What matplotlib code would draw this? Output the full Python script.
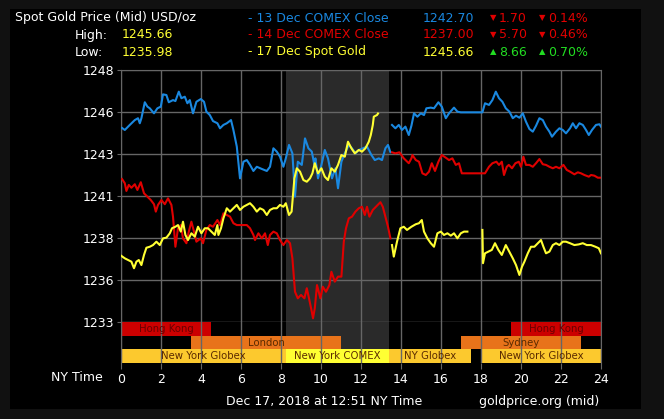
import matplotlib.pyplot as plt
import numpy as np
from matplotlib.patches import Rectangle

nan = np.nan

# 13 Dec COMEX (blue) - hour of NY day, price
hours_13 = [0.05, 0.19, 0.44, 0.69, 0.85, 0.94, 1.02, 1.19, 1.32, 1.44, 1.65, 1.82, 1.99, 2.10, 2.27, 2.39,
            2.60, 2.72, 2.89, 3.02, 3.19, 3.32, 3.44, 3.60, 3.77, 3.99, 4.15, 4.27, 4.44, 4.60, 4.82, 4.95,
            5.12, 5.29, 5.50, 5.62, 5.79, 5.95, 6.12, 6.29, 6.45, 6.62, 6.79, 7.04, 7.29, 7.45, 7.62, 7.79,
            7.95, 8.12, 8.24, 8.40, 8.57, 8.70, 8.84, 9.04, 9.20, 9.37, 9.54, 9.67, 9.72, 9.85, 10.02, 10.19,
            10.35, 10.55, 10.72, 10.85, 11.02, 11.19, 11.39, 11.55, 11.72, 11.89, 12.09, 12.30, 12.52, 12.69,
            12.89, 13.05, 13.22, 13.35, 13.47, 13.50, 13.55, 13.72, 13.89, 14.05, 14.22, 14.39, 14.52, 14.65,
            14.82, 14.99, 15.15, 15.27, 15.49, 15.65, 15.87, 16.04, 16.24, 16.40, 16.65, 16.82, 16.99, 18.07,
            18.20, 18.40, 18.57, 18.74, 18.90, 19.07, 19.24, 19.42, 19.59, 19.75, 19.92, 20.09, 20.25, 20.42,
            20.59, 20.75, 20.92, 21.09, 21.25, 21.42, 21.55, 21.75, 21.92, 22.09, 22.25, 22.45, 22.59, 22.75,
            22.92, 23.09, 23.25, 23.39, 23.55, 23.75, 23.92, 24.0]
price_13 = [1244.80, 1244.68, 1244.98, 1245.27, 1245.38, 1245.08, 1245.38, 1246.33, 1246.07, 1245.97, 1245.67,
            1245.97, 1246.07, 1246.80, 1246.76, 1246.33, 1246.46, 1246.40, 1246.96, 1246.57, 1246.66, 1246.27,
            1246.46, 1245.67, 1246.36, 1246.52, 1246.36, 1245.77, 1245.57, 1245.21, 1245.08, 1244.78, 1244.98,
            1245.08, 1245.27, 1244.68, 1243.69, 1241.80, 1242.79, 1242.89, 1242.60, 1242.24, 1242.49, 1242.36,
            1242.24, 1242.49, 1243.59, 1243.39, 1243.09, 1242.49, 1242.99, 1243.79, 1243.29, 1240.71, 1242.79,
            1242.60, 1244.18, 1243.59, 1243.39, 1242.60, 1242.99, 1241.80, 1242.60, 1243.49, 1242.99, 1241.80,
            1242.40, 1241.21, 1242.79, 1243.29, 1243.79, 1243.59, 1243.29, 1243.49, 1243.59, 1243.69, 1243.19,
            1242.89, 1242.99, 1242.89, 1243.59, 1243.79, 1243.35, nan, 1244.98, 1244.78, 1244.98, 1244.68,
            1244.88, 1244.38, 1244.93, 1245.67, 1245.47, 1245.67, 1245.57, 1245.97, 1246.01, 1245.97, 1246.33,
            1246.07, 1245.38, 1245.67, 1246.01, 1245.77, 1245.73, 1245.73, 1246.27, 1246.17, 1246.46, 1246.96,
            1246.57, 1246.36, 1245.97, 1245.77, 1245.38, 1245.53, 1245.41, 1245.67, 1245.17, 1244.74, 1244.58,
            1244.93, 1245.38, 1245.27, 1244.88, 1244.58, 1244.28, 1244.58, 1244.78, 1244.68, 1244.48, 1244.78,
            1245.08, 1244.78, 1245.08, 1244.98, 1244.68, 1244.38, 1244.68, 1244.98, 1245.02, 1244.88]

# 14 Dec COMEX (red)
hours_14 = [0.05, 0.19, 0.27, 0.39, 0.52, 0.69, 0.82, 0.99, 1.15, 1.32, 1.49, 1.65, 1.74, 1.85, 2.02, 2.19,
            2.35, 2.52, 2.60, 2.72, 2.85, 2.99, 3.10, 3.27, 3.39, 3.52, 3.65, 3.77, 3.99, 4.10, 4.27, 4.44,
            4.60, 4.82, 4.95, 5.12, 5.29, 5.45, 5.62, 5.79, 6.04, 6.29, 6.45, 6.62, 6.70, 6.87, 7.04, 7.20,
            7.34, 7.45, 7.62, 7.79, 7.95, 8.12, 8.29, 8.45, 8.57, 8.70, 8.84, 9.00, 9.17, 9.29, 9.40, 9.54,
            9.60, 9.69, 9.80, 9.97, 10.09, 10.25, 10.42, 10.52, 10.69, 10.85, 11.02, 11.14, 11.25, 11.39,
            11.55, 11.72, 11.89, 12.05, 12.19, 12.30, 12.42, 12.59, 12.75, 12.97, 13.09, 13.22, 13.35, 13.47,
            13.50, 13.55, 13.72, 13.92, 14.14, 14.39, 14.52, 14.57, 14.74, 14.90, 15.07, 15.24, 15.40, 15.54,
            15.70, 15.87, 16.04, 16.24, 16.40, 16.57, 16.74, 16.90, 17.04, 18.20, 18.40, 18.57, 18.77, 18.90,
            19.04, 19.15, 19.29, 19.39, 19.55, 19.72, 19.89, 20.00, 20.12, 20.25, 20.42, 20.59, 20.75, 20.92,
            21.09, 21.25, 21.42, 21.59, 21.75, 21.92, 22.12, 22.29, 22.45, 22.67, 22.84, 23.00, 23.17, 23.39,
            23.50, 23.67, 23.84, 24.0]
price_14 = [1241.76, 1241.51, 1241.05, 1241.41, 1241.24, 1241.45, 1241.11, 1241.57, 1240.91, 1240.71, 1240.51,
            1240.26, 1239.82, 1240.22, 1240.51, 1240.26, 1240.61, 1240.22, 1239.52, 1237.73, 1238.83, 1239.02,
            1238.23, 1237.94, 1238.63, 1239.22, 1238.63, 1238.03, 1238.23, 1237.94, 1238.73, 1239.02, 1238.92,
            1239.32, 1239.02, 1239.72, 1239.62, 1239.52, 1239.13, 1239.02, 1239.02, 1239.02, 1238.83, 1238.43,
            1238.13, 1238.53, 1238.23, 1238.53, 1237.83, 1238.43, 1238.63, 1238.53, 1238.13, 1237.83, 1238.13,
            1237.94, 1237.04, 1235.05, 1234.66, 1234.86, 1234.66, 1235.26, 1234.66, 1233.86, 1233.47, 1234.07,
            1235.45, 1234.66, 1235.35, 1235.05, 1235.45, 1236.24, 1235.65, 1235.95, 1235.95, 1238.03, 1238.83,
            1239.42, 1239.52, 1239.82, 1240.02, 1240.11, 1239.62, 1240.11, 1239.52, 1239.92, 1240.11, 1240.38,
            1240.11, 1239.52, 1238.92, 1238.23, nan, 1243.35, 1243.29, 1243.35, 1242.99, 1242.70, 1242.99,
            1243.19, 1242.89, 1242.79, 1242.10, 1242.00, 1242.20, 1242.70, 1242.24, 1242.79, 1243.19, 1243.03,
            1242.89, 1242.99, 1242.60, 1242.70, 1242.10, 1242.10, 1242.49, 1242.70, 1242.79, 1242.60, 1242.79,
            1242.00, 1242.49, 1242.60, 1242.40, 1242.70, 1242.79, 1242.49, 1243.09, 1242.60, 1242.60, 1242.49,
            1242.70, 1242.95, 1242.64, 1242.60, 1242.49, 1242.40, 1242.49, 1242.40, 1242.60, 1242.30, 1242.20,
            1242.04, 1242.16, 1242.10, 1242.00, 1241.90, 1242.00, 1241.96, 1241.84, 1241.84]

# 17 Dec spot (yellow)
hours_17 = [0.0, 0.19, 0.35, 0.52, 0.65, 0.77, 0.89, 1.02, 1.15, 1.27, 1.44, 1.60, 1.77, 1.94, 2.10, 2.27,
            2.44, 2.55, 2.72, 2.85, 2.99, 3.10, 3.22, 3.35, 3.52, 3.69, 3.85, 4.02, 4.19, 4.35, 4.52, 4.69,
            4.82, 4.87, 5.00, 5.12, 5.29, 5.45, 5.62, 5.79, 5.95, 6.12, 6.29, 6.45, 6.62, 6.79, 6.95, 7.12,
            7.29, 7.45, 7.62, 7.79, 7.95, 8.12, 8.24, 8.40, 8.53, 8.67, 8.79, 8.95, 9.12, 9.29, 9.45, 9.57,
            9.69, 9.85, 10.02, 10.19, 10.35, 10.52, 10.69, 10.85, 11.02, 11.19, 11.35, 11.52, 11.69, 11.89,
            12.05, 12.22, 12.39, 12.49, 12.59, 12.64, 12.80, 12.85, 13.20, 13.55, 13.64, 13.80, 13.97, 14.14,
            14.30, 14.52, 14.74, 14.90, 15.04, 15.15, 15.32, 15.49, 15.65, 15.82, 15.99, 16.15, 16.32, 16.49,
            16.65, 16.82, 16.99, 17.15, 17.32, 17.70, 18.07, 18.10, 18.20, 18.37, 18.54, 18.70, 18.87, 19.04,
            19.24, 19.37, 19.42, 19.59, 19.75, 19.92, 20.05, 20.17, 20.34, 20.50, 20.67, 20.84, 21.00, 21.12,
            21.25, 21.42, 21.59, 21.75, 21.92, 22.09, 22.25, 22.45, 22.67, 22.89, 23.09, 23.29, 23.50, 23.72,
            23.89, 24.0]
price_17 = [1237.20, 1237.04, 1236.94, 1236.84, 1236.45, 1236.84, 1236.94, 1236.64, 1237.24, 1237.67, 1237.73,
            1237.83, 1238.03, 1237.83, 1238.23, 1238.27, 1238.53, 1238.83, 1238.92, 1239.02, 1238.63, 1239.22,
            1238.43, 1238.13, 1238.53, 1238.33, 1238.92, 1238.53, 1238.83, 1238.83, 1238.63, 1238.43, 1239.02,
            1238.43, 1238.83, 1239.42, 1240.02, 1239.82, 1240.02, 1240.22, 1239.92, 1240.11, 1240.22, 1240.32,
            1240.11, 1239.82, 1240.02, 1239.92, 1239.62, 1239.92, 1240.02, 1240.02, 1240.22, 1240.11, 1240.32,
            1239.62, 1239.82, 1241.80, 1242.40, 1242.20, 1241.70, 1241.60, 1241.80, 1242.10, 1242.70, 1242.10,
            1242.40, 1241.90, 1241.70, 1242.40, 1242.20, 1242.60, 1243.19, 1243.09, 1243.98, 1243.59, 1243.29,
            1243.49, 1243.39, 1243.59, 1243.98, 1244.38, 1244.98, 1245.47, 1245.57, 1245.66, nan, 1237.83,
            1237.14, 1238.03, 1238.83, 1238.92, 1238.73, 1238.92, 1239.07, 1239.13, 1239.32, 1238.63, 1238.23,
            1237.94, 1237.73, 1238.53, 1238.63, 1238.43, 1238.53, 1238.39, 1238.53, 1238.23, 1238.53, 1238.63,
            1238.63, nan, 1238.73, 1236.75, 1237.34, 1237.44, 1237.54, 1237.94, 1237.54, 1237.24, 1237.83,
            1237.54, 1237.44, 1237.04, 1236.64, 1236.05, 1236.54, 1236.84, 1237.34, 1237.73, 1237.73, 1237.94,
            1238.13, 1237.73, 1237.34, 1237.44, 1237.83, 1237.94, 1237.83, 1238.03, 1238.03, 1237.94, 1237.83,
            1237.87, 1237.94, 1237.83, 1237.83, 1237.73, 1237.64, 1237.34]

# trading sessions: name, start hour, end hour, row (0 = top)
session_names = ["Hong Kong", "Hong Kong", "London", "Sydney",
                 "New York Globex", "New York COMEX", "NY Globex", "New York Globex"]
session_start = [0, 19.5, 3.5, 17, 0, 8.25, 13.4, 18]
session_end = [4.5, 24, 11, 23, 8.25, 13.4, 17.5, 24]
session_row = [0, 0, 1, 1, 2, 2, 2, 2]
session_color = ["#cc0000", "#cc0000", "#e8731a", "#e8731a",
                 "#fcc92e", "#ffff33", "#fcc92e", "#fcc92e"]

comex_open, comex_close = 8.25, 13.4

y_ticks = [1233.25, 1235.75, 1238.25, 1240.75, 1243.25, 1245.75, 1248.25]
y_labels = ["1233", "1236", "1238", "1241", "1243", "1246", "1248"]
x_ticks = list(range(0, 25, 2))

BLUE = "#1a88e0"
RED = "#e00000"
YELLOW = "#ffff33"
GREEN = "#22dd22"
GRID = "#666666"

W, H = 664, 419
fig = plt.figure(figsize=(W / 100, H / 100), dpi=100, facecolor="#111111")

# black panel
fig.patches.append(Rectangle((10 / W, 1 - 409 / H), 631 / W, 400 / H,
                             transform=fig.transFigure, facecolor="black", edgecolor="none", zorder=-1))

ax = fig.add_axes([121 / W, 1 - 322 / H, 480 / W, 252 / H])
axs = fig.add_axes([121 / W, 1 - 363 / H, 480 / W, 41 / H], sharex=ax)

for a in (ax, axs):
    a.set_facecolor("black")
    a.axvspan(comex_open, comex_close, color="#2a2a2a", zorder=0, lw=0)
    for s in a.spines.values():
        s.set_color(GRID)

ax.set_axisbelow(True)
ax.grid(True, color=GRID, lw=1)
ax.plot(hours_13, price_13, color=BLUE, lw=1.5, zorder=3)
ax.plot(hours_14, price_14, color=RED, lw=1.5, zorder=3)
ax.plot(hours_17, price_17, color=YELLOW, lw=1.5, zorder=4)
ax.set_xlim(0, 24)
ax.set_ylim(1233.25, 1248.25)
ax.set_yticks(y_ticks)
ax.set_yticklabels(y_labels)
ax.tick_params(axis="y", colors=GRID, labelcolor="white", labelsize=9, length=3, pad=2)
ax.tick_params(axis="x", bottom=False, labelbottom=False)

# session bars
axs.barh([2.5 - r for r in session_row],
         [e - s for s, e in zip(session_start, session_end)],
         left=session_start, height=1.0, color=session_color, zorder=1)
for name, s, e, r in zip(session_names, session_start, session_end, session_row):
    tc = "#6a0000" if r == 0 else "#5a2a00"
    axs.text((s + e) / 2, 2.5 - r, name, ha="center", va="center", fontsize=7.3, color=tc, zorder=3)
axs.set_ylim(0, 3)
axs.set_yticks([])
axs.set_axisbelow(False)
axs.grid(True, axis="x", color=GRID, lw=1)
axs.spines["top"].set_visible(False)
axs.spines["bottom"].set_visible(False)
axs.set_xticks(x_ticks)
axs.tick_params(axis="x", colors=GRID, labelcolor="white", labelsize=9, length=4, pad=3)

fig.text(103 / W, 1 - 377 / H, "NY Time", ha="right", va="center", color="white", fontsize=9)
fig.text(226 / W, 1 - 401 / H, "Dec 17, 2018 at 12:51 NY Time", ha="left", va="center", color="white", fontsize=9)
fig.text(599 / W, 1 - 401 / H, "goldprice.org (mid)", ha="right", va="center", color="white", fontsize=9)

# header
rows_y = [1 - 18 / H, 1 - 35 / H, 1 - 52 / H]
fig.text(15 / W, rows_y[0], "Spot Gold Price (Mid) USD/oz", color="white", fontsize=9, va="center")
fig.text(75 / W, rows_y[1], "High:", color="white", fontsize=9, va="center")
fig.text(122 / W, rows_y[1], "1245.66", color=YELLOW, fontsize=9, va="center")
fig.text(75 / W, rows_y[2], "Low:", color="white", fontsize=9, va="center")
fig.text(122 / W, rows_y[2], "1235.98", color=YELLOW, fontsize=9, va="center")

legend_names = ["- 13 Dec COMEX Close", "- 14 Dec COMEX Close", "- 17 Dec Spot Gold"]
legend_values = ["1242.70", "1237.00", "1245.66"]
legend_change = ["1.70", "5.70", "8.66"]
legend_pct = ["0.14%", "0.46%", "0.70%"]
legend_up = [False, False, True]
legend_colors = [BLUE, RED, YELLOW]

for i in range(3):
    y = rows_y[i]
    c = legend_colors[i]
    fig.text(248 / W, y, legend_names[i], color=c, fontsize=9, va="center")
    fig.text(423 / W, y, legend_values[i], color=c, fontsize=9, va="center")
    cc = GREEN if legend_up[i] else RED
    tri = "\u25b2" if legend_up[i] else "\u25bc"
    fig.text(490 / W, y, tri, color=cc, fontsize=6, va="center")
    fig.text(499 / W, y, legend_change[i], color=cc, fontsize=9, va="center")
    fig.text(539 / W, y, tri, color=cc, fontsize=6, va="center")
    fig.text(548 / W, y, legend_pct[i], color=cc, fontsize=9, va="center")

fig.savefig("out.png", dpi=100, facecolor=fig.get_facecolor())
